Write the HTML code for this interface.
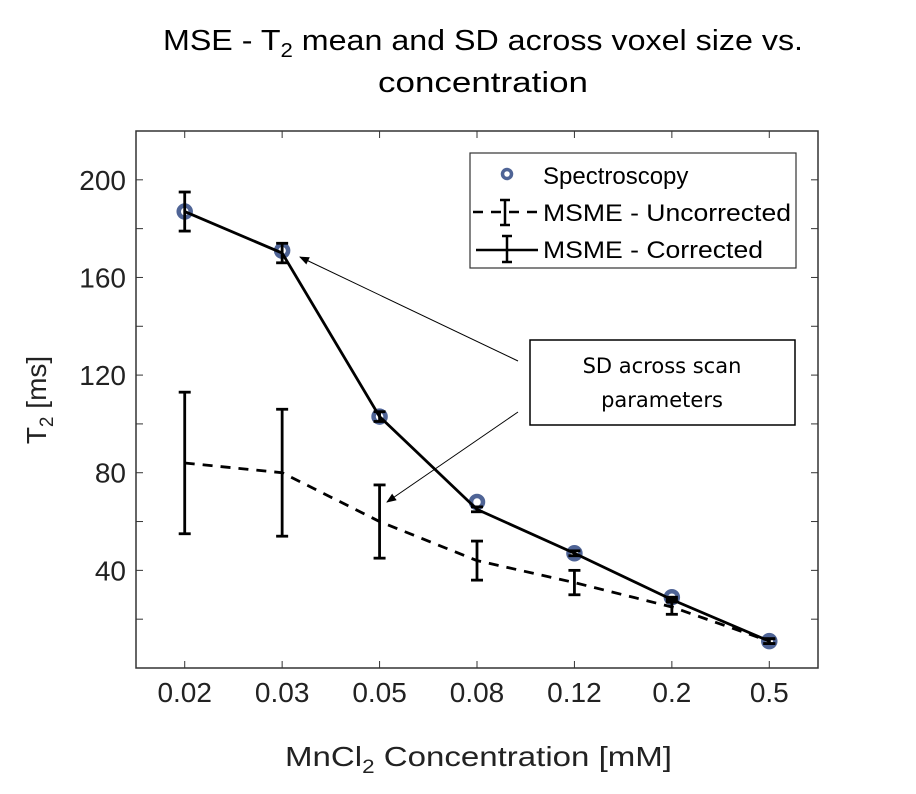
<!DOCTYPE html>
<html><head><meta charset="utf-8"><style>
body{margin:0;background:#fff;}
svg{display:block;font-family:"Liberation Sans",sans-serif;}
</style></head><body>
<svg id="chart" width="916" height="794" xmlns="http://www.w3.org/2000/svg">
<defs><marker id="ah" markerWidth="10" markerHeight="8" refX="9" refY="4" orient="auto" markerUnits="userSpaceOnUse"><path d="M0,0L10,4L0,8z" fill="#000"/></marker></defs>
<text x="163" y="50" font-size="29" textLength="640" lengthAdjust="spacingAndGlyphs">MSE - T<tspan font-size="20" dy="7">2</tspan><tspan dy="-7"> mean and SD across voxel size vs.</tspan></text>
<text x="378" y="92" font-size="29" textLength="210" lengthAdjust="spacingAndGlyphs">concentration</text>
<rect x="136" y="131" width="682" height="537" fill="none" stroke="#333" stroke-width="1.5"/>
<g id="axes"></g>
<g id="series"></g>
<text transform="translate(46,400) rotate(-90)" font-size="28" text-anchor="middle" fill="#222">T<tspan font-size="19" dy="7">2</tspan><tspan dy="-7"> [ms]</tspan></text>
<text x="285" y="766" font-size="28" textLength="387" lengthAdjust="spacingAndGlyphs" fill="#222">MnCl<tspan font-size="19" dy="7">2</tspan><tspan dy="-7"> Concentration  [mM]</tspan></text>
<g>
<rect x="470" y="153" width="326" height="115" fill="#fff" stroke="#333" stroke-width="1.2"/>
<circle cx="507" cy="174" r="4.5" fill="none" stroke="#4f6496" stroke-width="3.5"/>
<text x="543" y="184" font-size="24">Spectroscopy</text>
<line x1="473" y1="212" x2="540" y2="212" stroke="#000" stroke-width="2.5" stroke-dasharray="10,8"/>
<line x1="505" y1="200" x2="505" y2="225" stroke="#000" stroke-width="2.5"/><line x1="500" y1="200" x2="510" y2="200" stroke="#000" stroke-width="2.5"/><line x1="500" y1="225" x2="510" y2="225" stroke="#000" stroke-width="2.5"/>
<text x="543" y="221" font-size="24" textLength="248" lengthAdjust="spacingAndGlyphs">MSME - Uncorrected</text>
<line x1="476" y1="250" x2="538" y2="250" stroke="#000" stroke-width="2.5"/>
<line x1="507" y1="236" x2="507" y2="262" stroke="#000" stroke-width="2.5"/><line x1="502" y1="236" x2="512" y2="236" stroke="#000" stroke-width="2.5"/><line x1="502" y1="262" x2="512" y2="262" stroke="#000" stroke-width="2.5"/>
<text x="543" y="258" font-size="24" textLength="220" lengthAdjust="spacingAndGlyphs">MSME - Corrected</text>
</g>
<g>
<line x1="518" y1="361" x2="300" y2="257" stroke="#000" stroke-width="1" marker-end="url(#ah)"/>
<line x1="518" y1="412" x2="387" y2="502" stroke="#000" stroke-width="1" marker-end="url(#ah)"/>
<rect x="530" y="340" width="265" height="85" fill="#fff" stroke="#000" stroke-width="1.5"/>
<text x="662" y="373" font-size="21" text-anchor="middle" font-family="DejaVu Sans, sans-serif">SD across scan</text>
<text x="662" y="407" font-size="21" text-anchor="middle" font-family="DejaVu Sans, sans-serif">parameters</text>
</g>
</svg>
<script>
const categories=["0.02","0.03","0.05","0.08","0.12","0.2","0.5"];
const spectroscopy=[187,171,103,68,47,29,11];
const correctedMean=[187,170,103,65,47,28,11];
const correctedSD=[8,4,2,1,1,1,1];
const uncorrectedMean=[84,80,60,44,35,25,11];
const uncorrectedSD=[29,26,15,8,5,3,1];
const yTicks=[40,80,120,160,200];
const NS="http://www.w3.org/2000/svg";
const X0=136,X1=818,Y0=668,Y1=131,YMAX=220;
const n=categories.length;
function xs(i){return X0+(i+0.5)*(X1-X0)/n;}
function ys(v){return Y0-v/YMAX*(Y0-Y1);}
function mk(tag,attrs,parent){const e=document.createElementNS(NS,tag);for(const k in attrs)e.setAttribute(k,attrs[k]);parent.appendChild(e);return e;}
const axes=document.getElementById('axes'),ser=document.getElementById('series');
for(let v=20;v<YMAX;v+=20){const y=ys(v);
 const t1=mk('line',{x1:X0,x2:X0+7,y1:y,y2:y,stroke:'#333'},axes);
 
 
 const t2=mk('line',{x1:X1,x2:X1-7,y1:y,y2:y,stroke:'#333'},axes);
 
 }
yTicks.forEach(v=>{const t=mk('text',{x:X0-10,y:ys(v)+10,'font-size':28,'text-anchor':'end',fill:'#222'},axes);t.textContent=v;
 
 });
categories.forEach((c,i)=>{const x=xs(i);
 const a=mk('line',{x1:x,x2:x,y1:Y0,y2:Y0-7,stroke:'#333'},axes);
 
 
 const b=mk('line',{x1:x,x2:x,y1:Y1,y2:Y1+7,stroke:'#333'},axes);
 
 
 const t=mk('text',{x:x,y:702,'font-size':28,'text-anchor':'middle',fill:'#222'},axes);t.textContent=c;
 
 });
function line(means,dash,name){const p=mk('polyline',{points:means.map((v,i)=>xs(i)+','+ys(v)).join(' '),fill:'none',stroke:'#000','stroke-width':2.8,'stroke-dasharray':dash},ser);
 
 }
function errs(means,sds,name){means.forEach((v,i)=>{const x=xs(i),a=ys(v+sds[i]),b=ys(v-sds[i]);
 const g=mk('g',{stroke:'#000','stroke-width':2.8},ser);
 
 
 mk('line',{x1:x,x2:x,y1:a,y2:b},g);mk('line',{x1:x-6,x2:x+6,y1:a,y2:a},g);mk('line',{x1:x-6,x2:x+6,y1:b,y2:b},g);});}
spectroscopy.forEach((v,i)=>{const c=mk('circle',{cx:xs(i),cy:ys(v),r:6,fill:'none',stroke:'#4f6496','stroke-width':4.5},ser);
 
 });
line(uncorrectedMean,'10,8','uncorrected-line');
errs(uncorrectedMean,uncorrectedSD,'uncorrected-errorbar');
line(correctedMean,'none','corrected-line');
errs(correctedMean,correctedSD,'corrected-errorbar');
</script>
</body></html>
